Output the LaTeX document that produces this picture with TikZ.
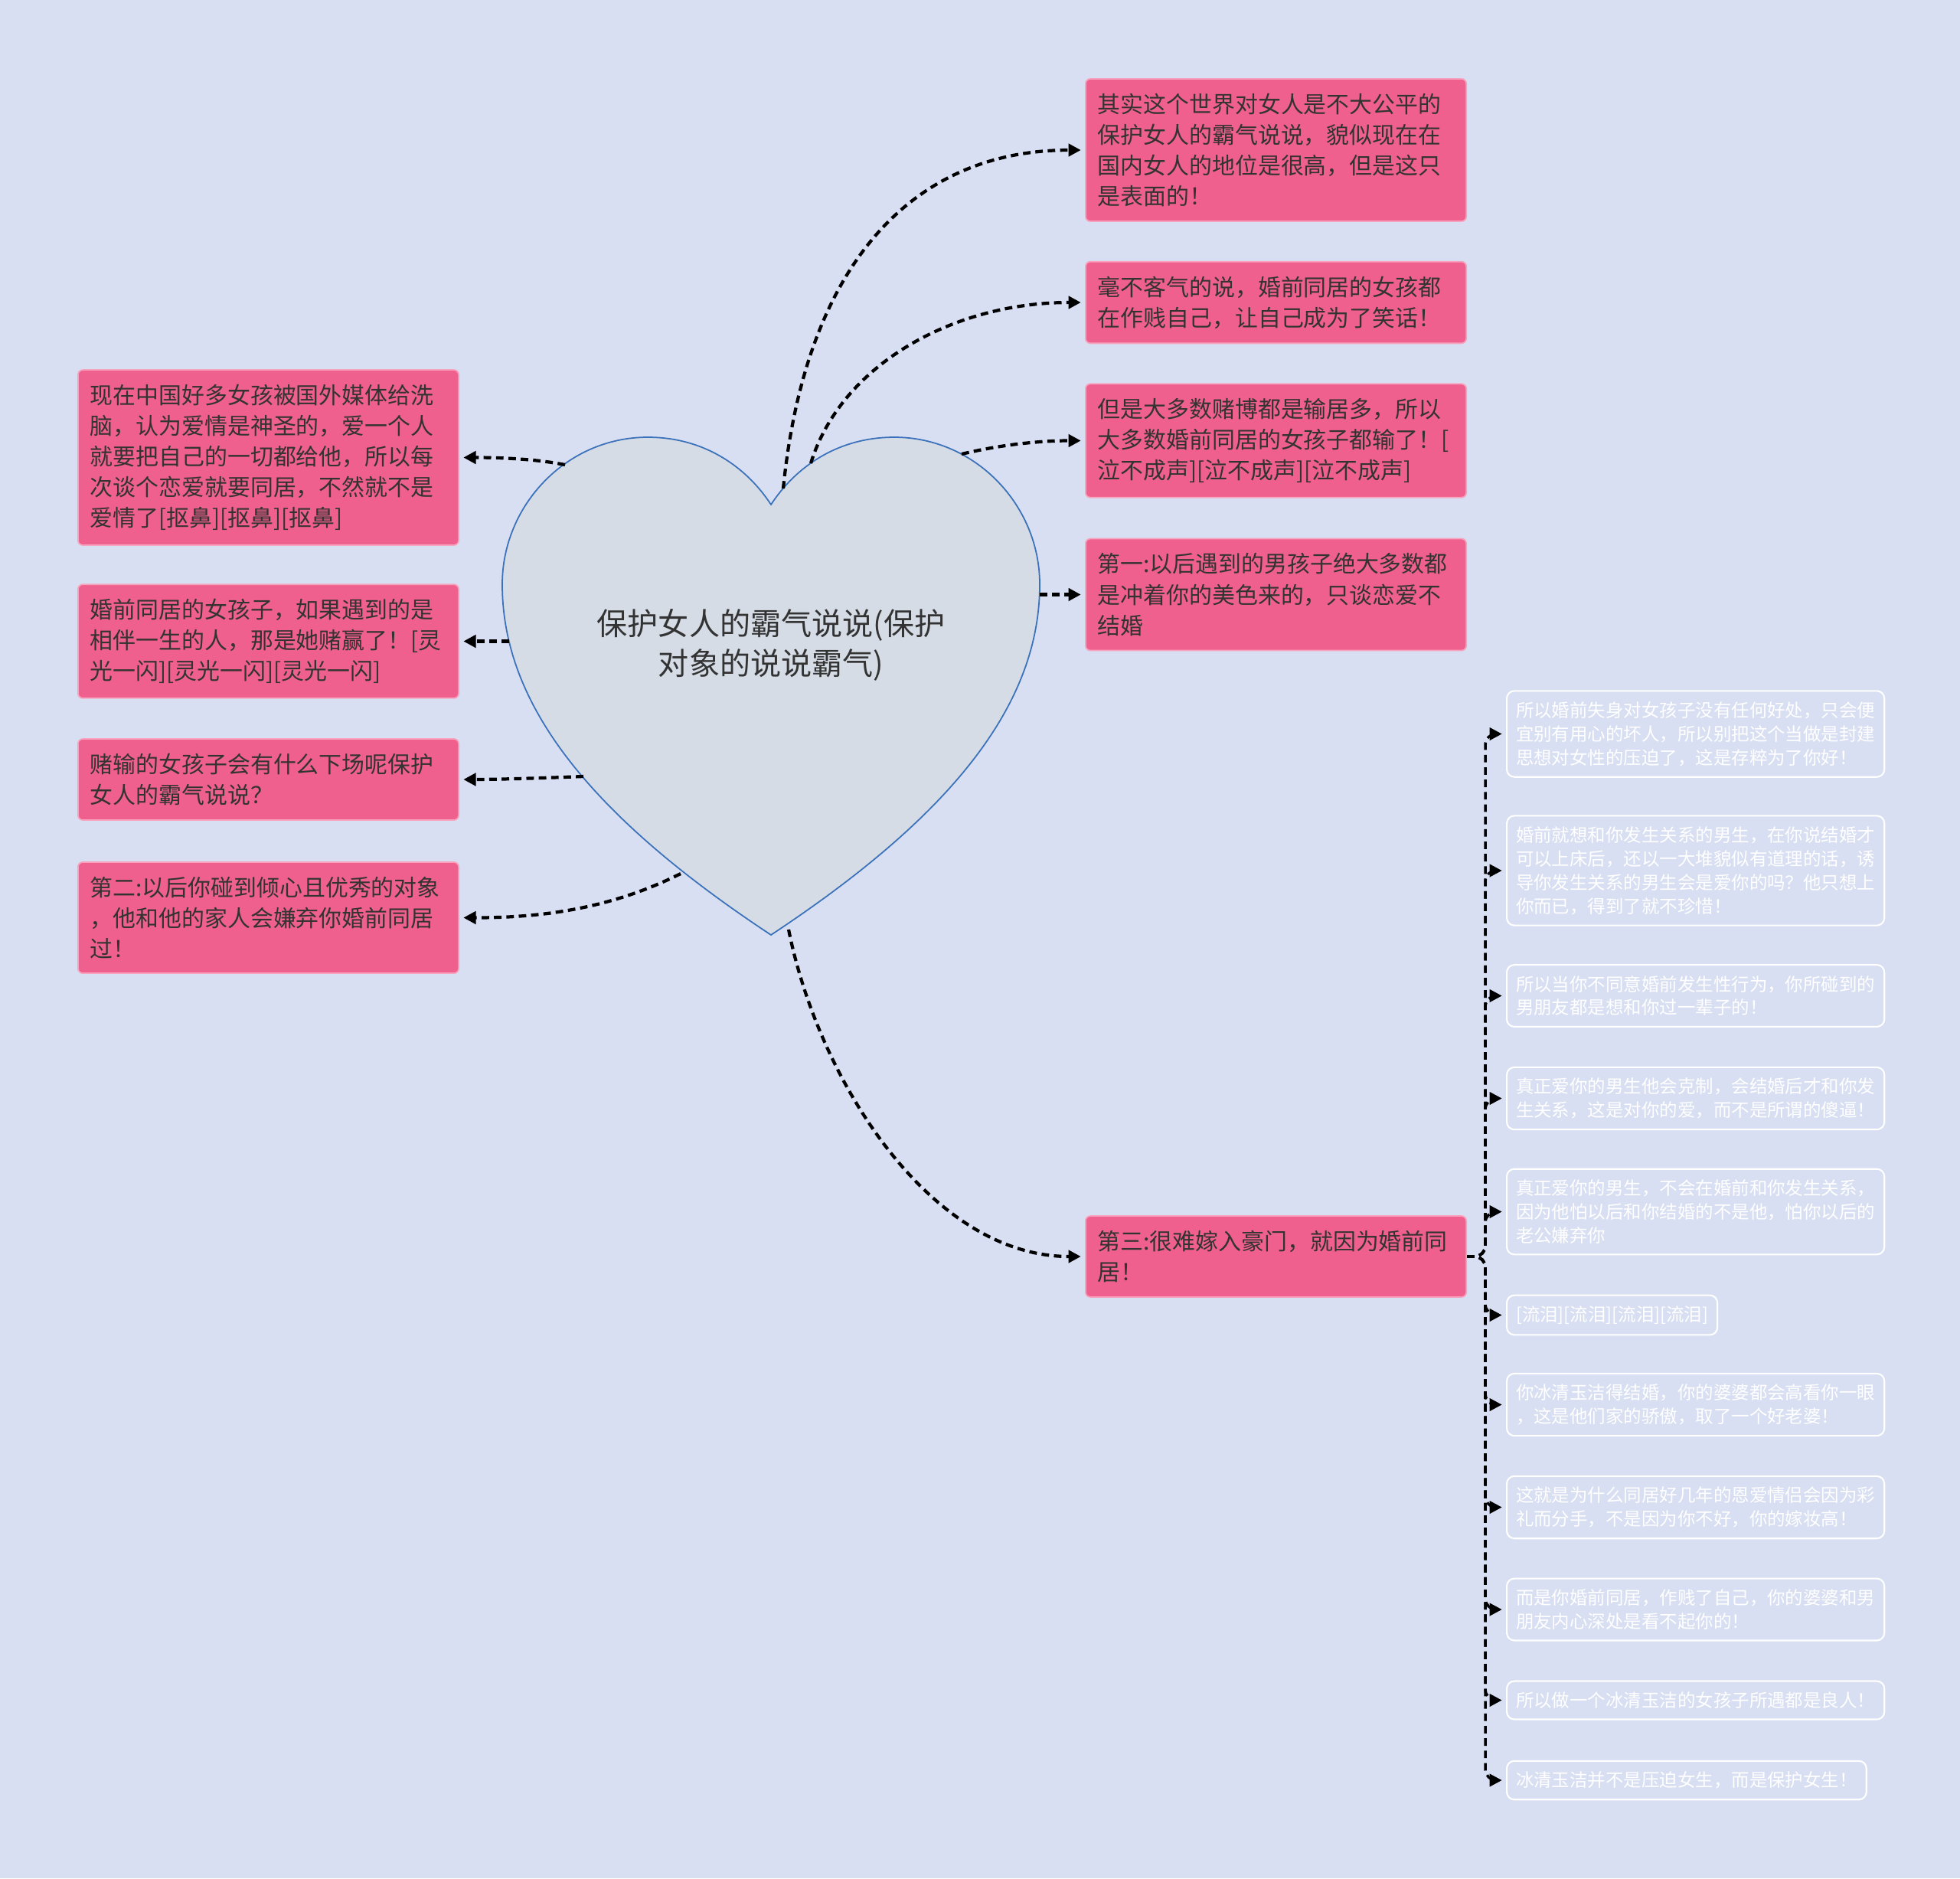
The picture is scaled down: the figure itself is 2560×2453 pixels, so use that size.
\documentclass[tikz,border=0pt]{standalone}
\usepackage{fontspec}
\setmainfont{Noto Sans CJK SC}
\usepackage{tikz}
\usetikzlibrary{arrows.meta}
\definecolor{bgBlue}{HTML}{D8DFF2}
\definecolor{heartFill}{HTML}{D5DCE6}
\definecolor{heartLine}{HTML}{3B71BA}
\definecolor{rosePink}{HTML}{F0608E}
\definecolor{roseEdge}{HTML}{F7A3BE}
\definecolor{inkGray}{HTML}{333333}

\tikzset{
  pinkbox/.style={fill=rosePink,draw=roseEdge,line width=0.5pt,rounded corners=1.8pt,
    text=inkGray,text width=4.65cm,align=left,inner xsep=0.16cm,inner ysep=0.19cm,
    font=\fontsize{8.5pt}{11.4pt}\selectfont},
  leafbox/.style={draw=white,line width=0.6pt,rounded corners=2.8pt,text=white,
    align=left,inner xsep=0.12cm,inner ysep=0.14cm,anchor=west,
    font=\fontsize{6.67pt}{8.8pt}\selectfont},
  link/.style={line width=1.2pt,dash pattern=on 2.8pt off 1.8pt,
    -{Triangle[length=4.6pt,width=4.6pt]},shorten >=1.5pt},
  sublink/.style={link,line width=1pt,rounded corners=4pt}
}

\begin{document}
\begin{tikzpicture}[x=0.01cm,y=-0.01cm]
\fill[bgBlue] (0,0) rectangle (2560,2453);

% heart in the middle
\filldraw[fill=heartFill,draw=heartLine,line width=0.5pt]
  (1007,659) .. controls (975,610) and (920,571) .. (846,571)
  .. controls (740,571) and (656,660) .. (656,763)
  .. controls (656,913) and (760,1058) .. (1007,1221)
  .. controls (1254,1058) and (1358,913) .. (1358,763)
  .. controls (1358,660) and (1274,571) .. (1168,571)
  .. controls (1094,571) and (1039,610) .. (1007,659) -- cycle;
\node[text=inkGray,align=center,font=\fontsize{11.4pt}{14.8pt}\selectfont] (root) at (1007,842)
  {保护女人的霸气说说(保护\\对象的说说霸气)};

\coordinate (h1) at (1023,638);
\coordinate (h2) at (1059,605);
\coordinate (h3) at (1256,593);
\coordinate (h4) at (1358,776.5);
\coordinate (h5) at (1030,1214);
\coordinate (h6) at (738,607);
\coordinate (h7) at (665,837.5);
\coordinate (h8) at (762,1014);
\coordinate (h9) at (889,1141);

% right side
\node[pinkbox,anchor=west] (r1) at (1417,196) {其实这个世界对女人是不大公平的\\保护女人的霸气说说，貌似现在在\\国内女人的地位是很高，但是这只\\是表面的！};
\node[pinkbox,anchor=west] (r2) at (1417,395) {毫不客气的说，婚前同居的女孩都\\在作贱自己，让自己成为了笑话！};
\node[pinkbox,anchor=west] (r3) at (1417,575.5) {但是大多数赌博都是输居多，所以\\大多数婚前同居的女孩子都输了！[\\泣不成声][泣不成声][泣不成声]};
\node[pinkbox,anchor=west] (r4) at (1417,776.5) {第一:以后遇到的男孩子绝大多数都\\是冲着你的美色来的，只谈恋爱不\\结婚};
\node[pinkbox,anchor=west] (r5) at (1417,1641) {第三:很难嫁入豪门，就因为婚前同\\居！};

% left side
\node[pinkbox,anchor=west] (l1) at (101,597.5) {现在中国好多女孩被国外媒体给洗\\脑，认为爱情是神圣的，爱一个人\\就要把自己的一切都给他，所以每\\次谈个恋爱就要同居，不然就不是\\爱情了[抠鼻][抠鼻][抠鼻]};
\node[pinkbox,anchor=west] (l2) at (101,837.5) {婚前同居的女孩子，如果遇到的是\\相伴一生的人，那是她赌赢了！[灵\\光一闪][灵光一闪][灵光一闪]};
\node[pinkbox,anchor=west] (l3) at (101,1018) {赌输的女孩子会有什么下场呢保护\\女人的霸气说说？};
\node[pinkbox,anchor=west] (l4) at (101,1198.5) {第二:以后你碰到倾心且优秀的对象\\，他和他的家人会嫌弃你婚前同居\\过！};

% leaves of r5
\node[leafbox] (s1) at (1967,958.5) {所以婚前失身对女孩子没有任何好处，只会便\\宜别有用心的坏人，所以别把这个当做是封建\\思想对女性的压迫了，这是存粹为了你好！};
\node[leafbox] (s2) at (1967,1137) {婚前就想和你发生关系的男生，在你说结婚才\\可以上床后，还以一大堆貌似有道理的话，诱\\导你发生关系的男生会是爱你的吗？他只想上\\你而已，得到了就不珍惜！};
\node[leafbox] (s3) at (1967,1300.5) {所以当你不同意婚前发生性行为，你所碰到的\\男朋友都是想和你过一辈子的！};
\node[leafbox] (s4) at (1967,1434.5) {真正爱你的男生他会克制，会结婚后才和你发\\生关系，这是对你的爱，而不是所谓的傻逼！};
\node[leafbox] (s5) at (1967,1582.5) {真正爱你的男生，不会在婚前和你发生关系，\\因为他怕以后和你结婚的不是他，怕你以后的\\老公嫌弃你};
\node[leafbox] (s6) at (1967,1717.5) {[流泪][流泪][流泪][流泪]};
\node[leafbox] (s7) at (1967,1834.5) {你冰清玉洁得结婚，你的婆婆都会高看你一眼\\，这是他们家的骄傲，取了一个好老婆！};
\node[leafbox] (s8) at (1967,1968.5) {这就是为什么同居好几年的恩爱情侣会因为彩\\礼而分手，不是因为你不好，你的嫁妆高！};
\node[leafbox] (s9) at (1967,2102) {而是你婚前同居，作贱了自己，你的婆婆和男\\朋友内心深处是看不起你的！};
\node[leafbox] (s10) at (1967,2220.5) {所以做一个冰清玉洁的女孩子所遇都是良人！};
\node[leafbox] (s11) at (1967,2325) {冰清玉洁并不是压迫女生，而是保护女生！};

% connectors
\draw[link] (h1) .. controls +(30,-300) and +(-220,0) .. (r1.west);
\draw[link] (h2) .. controls +(40,-130) and +(-170,0) .. (r2.west);
\draw[link] (h3) .. controls +(50,-12) and +(-60,0) .. (r3.west);
\draw[link] (h4) -- (r4.west);
\draw[link] (h5) .. controls +(40,200) and +(-200,0) .. (r5.west);
\draw[link] (h6) .. controls +(-40,-8) and +(50,0) .. (l1.east);
\draw[link] (h7) -- (l2.east);
\draw[link] (h8) .. controls +(-50,2) and +(50,0) .. (l3.east);
\draw[link] (h9) .. controls +(-90,45) and +(110,0) .. (l4.east);
\foreach \i in {1,...,11}
  \draw[sublink] (r5.east) -- ++(24,0) |- (s\i.west);
\end{tikzpicture}
\end{document}
